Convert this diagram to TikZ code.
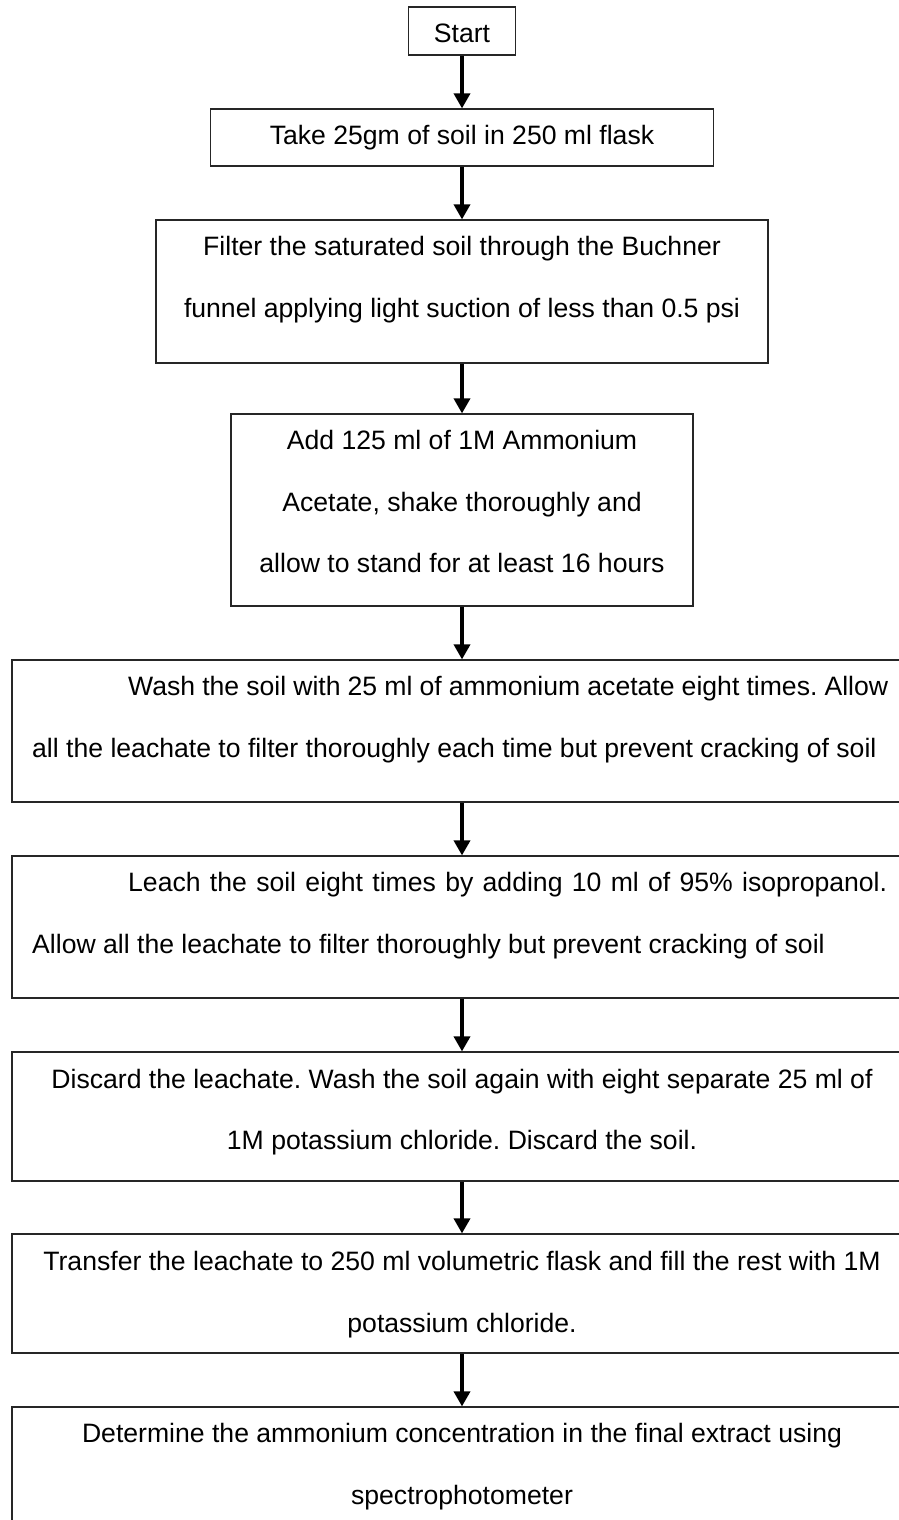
\documentclass[tikz,border=0pt]{standalone}
\usepackage{fontspec}
\setmainfont{Liberation Sans}
\frenchspacing
\usetikzlibrary{arrows.meta}
\begin{document}
\begin{tikzpicture}[x=1pt,y=-1pt,
  stepbox/.style={draw=black!85,line width=1.2pt,rectangle,inner sep=0pt},
  txt/.style={inner sep=0pt,anchor=base,font=\fontsize{26.6}{30}\selectfont\frenchspacing},
  txtl/.style={inner sep=0pt,anchor=base west,font=\fontsize{26.6}{30}\selectfont\frenchspacing},
  arr/.style={line width=3.5pt,-{Triangle[width=16pt,length=15pt]}}]
\clip (0,0) rectangle (899,1520);
\fill[white] (0,0) rectangle (899,1520);
% boxes
\node[stepbox,minimum width=107pt,minimum height=48pt] (s) at (462,31) {};
\node[stepbox,minimum width=503pt,minimum height=57pt] (b2) at (462,137.5) {};
\node[stepbox,minimum width=612pt,minimum height=143pt] (b3) at (462,291.5) {};
\node[stepbox,minimum width=462pt,minimum height=192pt] (b4) at (462,510) {};
\node[stepbox,minimum width=900pt,minimum height=142pt] (b5) at (462,731) {};
\node[stepbox,minimum width=900pt,minimum height=142pt] (b6) at (462,927) {};
\node[stepbox,minimum width=900pt,minimum height=129pt] (b7) at (462,1116.5) {};
\node[stepbox,minimum width=900pt,minimum height=119pt] (b8) at (462,1293.5) {};
\node[stepbox,minimum width=900pt,minimum height=123pt] (b9) at (462,1468.5) {};
% texts
\node[txt] (ts) at (462,43) {Start};
\node[txt] (t2) at (462,144) {Take 25gm of soil in 250 ml flask};
\node[txt] (t3a) at (462,255) {Filter the saturated soil through the Buchner};
\node[txt] (t3b) at (462,317) {funnel applying light suction of less than 0.5 psi};
\node[txt] (t4a) at (462,449) {Add 125 ml of 1M Ammonium};
\node[txt] (t4b) at (462,511) {Acetate, shake thoroughly and};
\node[txt] (t4c) at (462,572) {allow to stand for at least 16 hours};
\node[txtl] (t5a) at (128,695) {\makebox[760pt][s]{Wash the soil with 25 ml of ammonium acetate eight times. Allow}};
\node[txtl] (t5b) at (32,757) {all the leachate to filter thoroughly each time but prevent cracking of soil};
\node[txtl] (t6a) at (128,891) {\makebox[759pt][s]{Leach the soil eight times by adding 10 ml of 95\% isopropanol.}};
\node[txtl] (t6b) at (32,953) {Allow all the leachate to filter thoroughly but prevent cracking of soil};
\node[txt] (t7a) at (462,1088) {Discard the leachate. Wash the soil again with eight separate 25 ml of};
\node[txt] (t7b) at (462,1149) {1M potassium chloride. Discard the soil.};
\node[txt] (t8a) at (462,1270) {Transfer the leachate to 250 ml volumetric flask and fill the rest with 1M};
\node[txt] (t8b) at (462,1332) {potassium chloride.};
\node[txt] (t9a) at (462,1442) {Determine the ammonium concentration in the final extract using};
\node[txt] (t9b) at (462,1504) {spectrophotometer};
% arrows
\draw[arr] (s.south) -- (b2.north);
\draw[arr] (b2.south) -- (b3.north);
\draw[arr] (b3.south) -- (b4.north);
\draw[arr] (b4.south) -- (b5.north);
\draw[arr] (b5.south) -- (b6.north);
\draw[arr] (b6.south) -- (b7.north);
\draw[arr] (b7.south) -- (b8.north);
\draw[arr] (b8.south) -- (b9.north);
\end{tikzpicture}
\end{document}
